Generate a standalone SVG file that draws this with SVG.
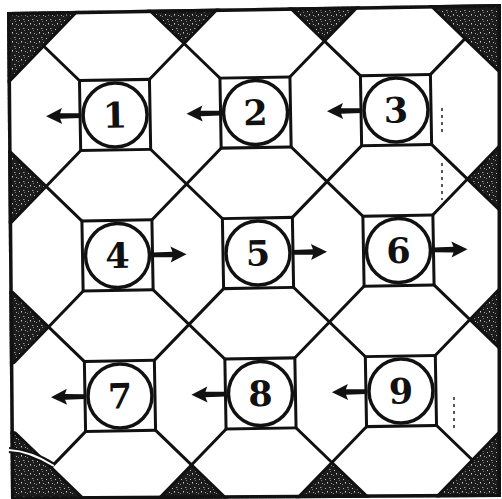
<svg xmlns="http://www.w3.org/2000/svg" xmlns:xlink="http://www.w3.org/1999/xlink" width="502" height="499" viewBox="0 0 502 499">
<style>
.ln{stroke:#111;stroke-width:3;fill:none;stroke-linecap:round}
.sq{fill:#fff;stroke:#111;stroke-width:3}
.ci{fill:#fff;stroke:#111;stroke-width:3.5}
.num{font-family:"DejaVu Serif","Liberation Serif",serif;font-weight:bold;font-size:35px;fill:#111;text-anchor:middle}
.art{stroke:#222;stroke-width:1.5;stroke-dasharray:3 4;fill:none}
</style>
<defs>
<clipPath id="frameClip"><polygon points="7,12 501,4 501,497 11,500"/></clipPath>
<pattern id="speckle" width="9" height="9" patternUnits="userSpaceOnUse">
<rect width="9" height="9" fill="#1c1c1c"/>
<rect x="1" y="2" width="1" height="1" fill="#bbb"/>
<rect x="5" y="1" width="1.5" height="1" fill="#999"/>
<rect x="3" y="5" width="1" height="1.5" fill="#ccc"/>
<rect x="7" y="6" width="1" height="1" fill="#aaa"/>
<rect x="6" y="3" width="1" height="1" fill="#777"/>
<rect x="0" y="7" width="1" height="1" fill="#888"/>
</pattern>
<path id="arr" d="M0,-2.4 L20,-2.8 L18,-8 L34,0 L18,8 L20,2.8 L0,2.4 Z" fill="#111"/>
</defs>
<rect width="502" height="499" fill="#fff"/>
<g id="tiling" clip-path="url(#frameClip)">
<rect x="0" y="0" width="502" height="499" fill="url(#speckle)"/>
<g transform="rotate(-1 258 253)">
<polygon fill="#fff" stroke="#111" stroke-width="3" stroke-linejoin="round" points="47.25,42.25 82.5,7 82.5,-10 152.5,-10 152.5,7 187.75,42.25 223,7 223,-10 293,-10 293,7 328.25,42.25 363.5,7 363.5,-10 433.5,-10 433.5,7 468.75,42.25 504,77.5 520,77.5 520,147.5 504,147.5 468.75,182.75 504,218 520,218 520,288 504,288 468.75,323.25 504,358.5 520,358.5 520,428.5 504,428.5 468.75,463.75 433.5,499 433.5,515 363.5,515 363.5,499 328.25,463.75 293,499 293,515 223,515 223,499 187.75,463.75 152.5,499 152.5,515 82.5,515 82.5,499 47.25,463.75 12,428.5 -10,428.5 -10,358.5 12,358.5 47.25,323.25 12,288 -10,288 -10,218 12,218 47.25,182.75 12,147.5 -10,147.5 -10,77.5 12,77.5"/>
<path class="ln" d="M47.25,42.25 L468.75,463.75 M47.25,182.75 L328.25,463.75 M187.75,42.25 L468.75,323.25 M47.25,323.25 L187.75,463.75 M328.25,42.25 L468.75,182.75 M47.25,182.75 L187.75,42.25 M47.25,323.25 L328.25,42.25 M47.25,463.75 L468.75,42.25 M187.75,463.75 L468.75,182.75 M328.25,463.75 L468.75,323.25"/>
</g>
<polygon points="7,12 501,4 501,497 11,500" fill="none" stroke="#111" stroke-width="7"/>
</g>
<g transform="rotate(-1 258 253)">
<g id="connectors">
<use xlink:href="#arr" transform="translate(82.5,112.5) rotate(180)"/>
<use xlink:href="#arr" transform="translate(223,112.5) rotate(180)"/>
<use xlink:href="#arr" transform="translate(363.5,112.5) rotate(180)"/>
<use xlink:href="#arr" transform="translate(152.5,253)"/>
<use xlink:href="#arr" transform="translate(293,253)"/>
<use xlink:href="#arr" transform="translate(433.5,253)"/>
<use xlink:href="#arr" transform="translate(82.5,393.5) rotate(180)"/>
<use xlink:href="#arr" transform="translate(223,393.5) rotate(180)"/>
<use xlink:href="#arr" transform="translate(363.5,393.5) rotate(180)"/>
</g>
<g id="node1"><rect class="sq" x="82.5" y="77.5" width="70" height="70"/><circle class="ci" cx="117.5" cy="112.5" r="32"/><text class="num" x="117.5" y="125">1</text></g>
<g id="node2"><rect class="sq" x="223" y="77.5" width="70" height="70"/><circle class="ci" cx="258" cy="112.5" r="32"/><text class="num" x="258" y="125">2</text></g>
<g id="node3"><rect class="sq" x="363.5" y="77.5" width="70" height="70"/><circle class="ci" cx="398.5" cy="112.5" r="32"/><text class="num" x="398.5" y="125">3</text></g>
<g id="node4"><rect class="sq" x="82.5" y="218" width="70" height="70"/><circle class="ci" cx="117.5" cy="253" r="32"/><text class="num" x="117.5" y="265.5">4</text></g>
<g id="node5"><rect class="sq" x="223" y="218" width="70" height="70"/><circle class="ci" cx="258" cy="253" r="32"/><text class="num" x="258" y="265.5">5</text></g>
<g id="node6"><rect class="sq" x="363.5" y="218" width="70" height="70"/><circle class="ci" cx="398.5" cy="253" r="32"/><text class="num" x="398.5" y="265.5">6</text></g>
<g id="node7"><rect class="sq" x="82.5" y="358.5" width="70" height="70"/><circle class="ci" cx="117.5" cy="393.5" r="32"/><text class="num" x="117.5" y="406">7</text></g>
<g id="node8"><rect class="sq" x="223" y="358.5" width="70" height="70"/><circle class="ci" cx="258" cy="393.5" r="32"/><text class="num" x="258" y="406">8</text></g>
<g id="node9"><rect class="sq" x="363.5" y="358.5" width="70" height="70"/><circle class="ci" cx="398.5" cy="393.5" r="32"/><text class="num" x="398.5" y="406">9</text></g>
</g>
<path d="M9,450 Q30,451 54,466" fill="none" stroke="#111" stroke-width="6"/>
<path d="M9,450 Q30,451 54,466" fill="none" stroke="#fff" stroke-width="2"/>
<path class="art" d="M442,108 L442,132 M442,163 L442,200 M454,397 L454,430"/>
</svg>
